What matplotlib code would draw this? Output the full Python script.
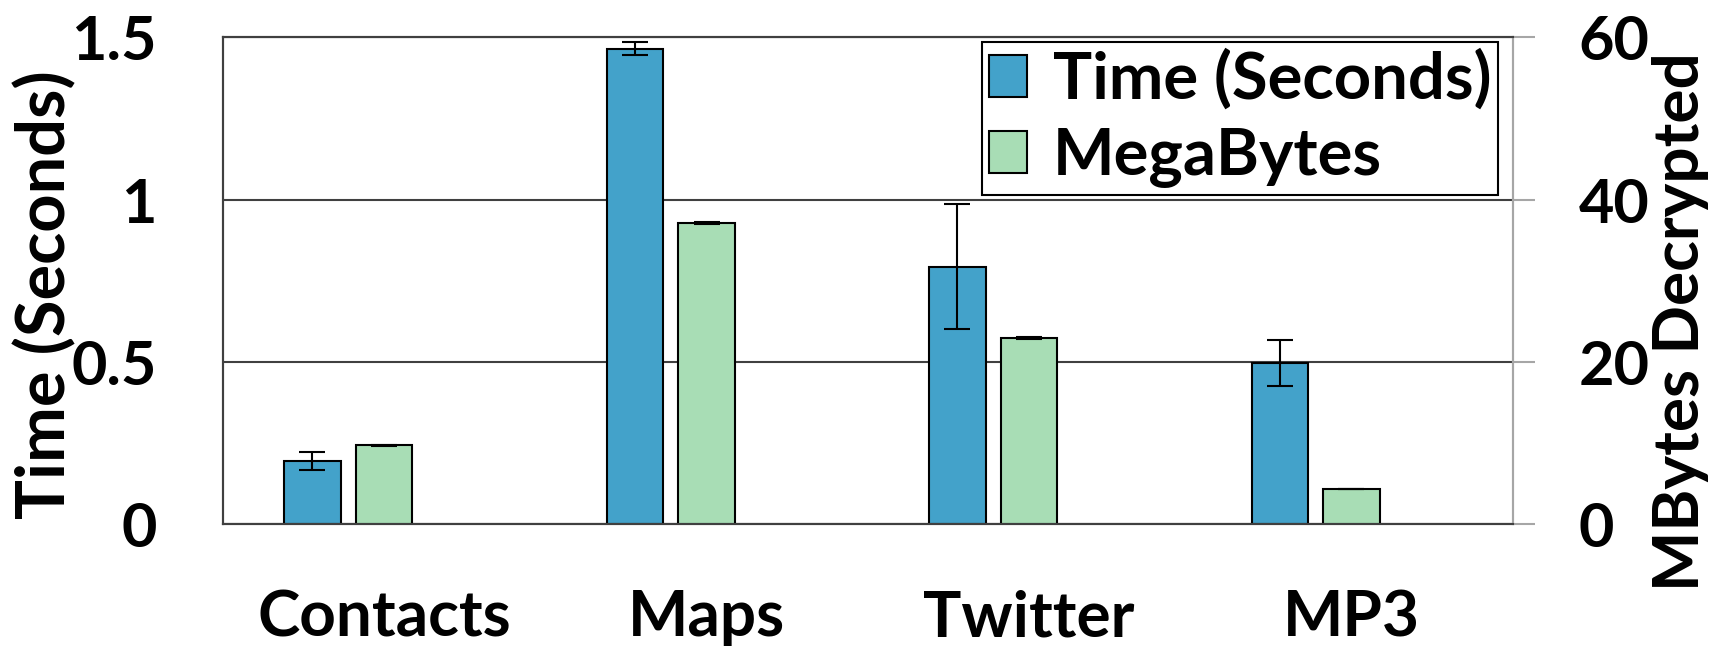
import numpy as np
import matplotlib
matplotlib.use('Agg')
import matplotlib.pyplot as plt

# Decryption cost per app: time on the left axis, data volume on the right
apps = ['Contacts', 'Maps', 'Twitter', 'MP3']
time_sec = [0.195, 1.464, 0.793, 0.495]
time_err = [0.028, 0.020, 0.192, 0.071]
mbytes = [9.7, 37.1, 22.9, 4.3]
mbytes_err = [0.05, 0.15, 0.15, 0.0]

plt.rcParams['font.family'] = ['Lato', 'DejaVu Sans']
plt.rcParams['font.weight'] = 'bold'
plt.rcParams['font.size'] = 44

blue = '#43a2ca'
green = '#a8ddb5'
dark = '#404040'
grey = '#a6a6a6'

fig = plt.figure(figsize=(17.31, 6.46), dpi=100)
ax = fig.add_axes([0.1287, 0.1889, 0.7452, 0.7534])
ax2 = ax.twinx()

x = np.arange(len(apps))
w = 0.176
err_kw = dict(ecolor='black', elinewidth=1.5, capsize=9.4, capthick=1.5)

b1 = ax.bar(x - 0.222, time_sec, w, yerr=time_err, color=blue,
            edgecolor='black', linewidth=1.5, error_kw=err_kw, label='Time (Seconds)')
b2 = ax2.bar(x, mbytes, w, yerr=mbytes_err, color=green,
             edgecolor='black', linewidth=1.5, error_kw=err_kw, label='MegaBytes')

# Left axis: time
ax.set_xlim(-0.5, len(apps) - 0.5)
ax.set_ylim(0, 1.5)
ax.set_yticks([0, 0.5, 1, 1.5])
ax.set_yticklabels(['0', '0.5', '1', '1.5'])
ax.set_axisbelow(True)
ax.grid(axis='y', color=dark, linewidth=1.5)
ax.tick_params(axis='y', length=0, pad=47.5)
ax.set_xticks(x)
ax.set_xticklabels(apps, fontsize=46)
ax.tick_params(axis='x', length=0, pad=47)
ax.set_ylabel('Time (Seconds)', fontweight='bold', fontsize=48)
ax.yaxis.set_label_coords(-0.113, 0.472)

# Right axis: megabytes
ax2.set_ylim(0, 60)
ax2.set_yticks([0, 20, 40, 60])
ax2.tick_params(axis='y', direction='out', length=15.8, width=1.5,
                color=grey, pad=31.7)
ax2.set_ylabel('MBytes Decrypted', fontweight='bold', fontsize=46)
ax2.yaxis.set_label_coords(1.108, 0.415)

for a in (ax, ax2):
    for side in ('left', 'bottom', 'top'):
        a.spines[side].set_color(dark)
        a.spines[side].set_linewidth(1.5)
    a.spines['right'].set_color(grey)
    a.spines['right'].set_linewidth(1.5)

leg = ax2.legend([b1, b2], ['Time (Seconds)', 'MegaBytes'],
                 loc='upper right', bbox_to_anchor=(0.9886, 0.9904),
                 borderaxespad=0, fancybox=False, framealpha=1,
                 edgecolor='black', fontsize=47,
                 handlelength=0.58, handleheight=0.63,
                 handletextpad=0.4, borderpad=0.1, labelspacing=0.26)
leg.get_frame().set_linewidth(1.5)

fig.savefig('out.png', dpi=100)
